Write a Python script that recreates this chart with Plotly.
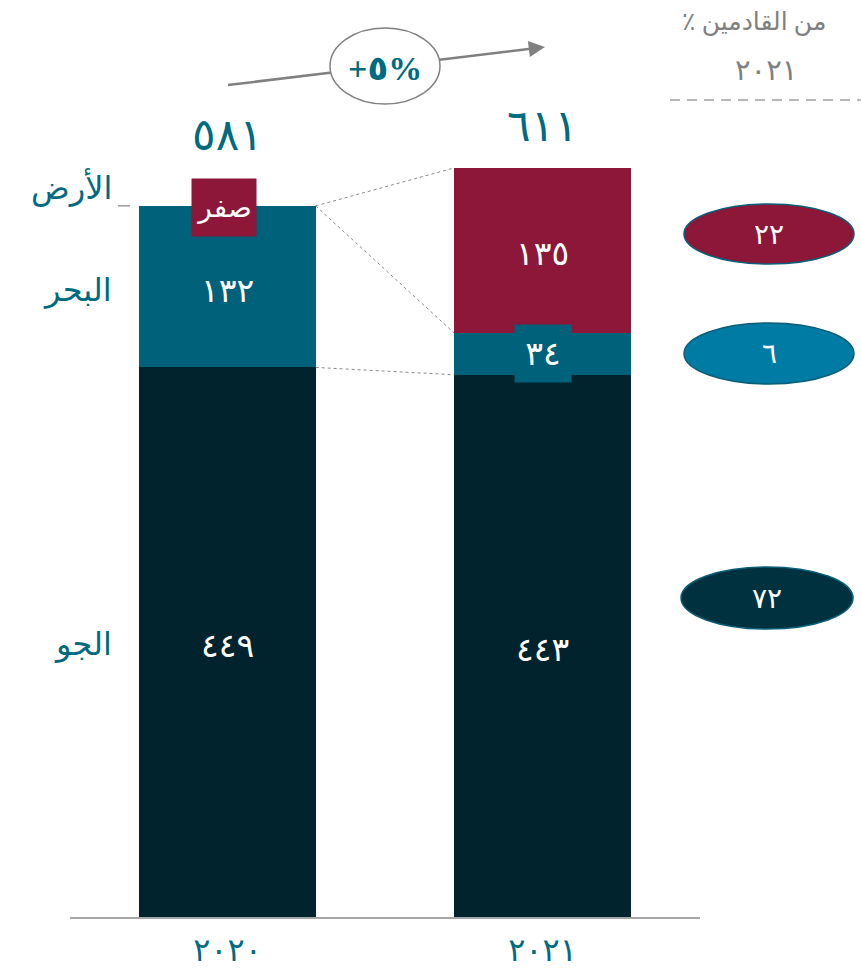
import plotly.graph_objects as go

years = ["٢٠٢٠", "٢٠٢١"]
air = [449, 443]
sea = [132, 34]
land = [0, 135]
air_labels = ["٤٤٩", "٤٤٣"]
sea_labels = ["١٣٢", "٣٤"]
land_labels = ["صفر", "١٣٥"]
totals = [581, 611]
total_labels = ["٥٨١", "٦١١"]
mode_names = ["الجو", "البحر", "الأرض"]
share_labels = ["٧٢", "٦", "٢٢"]
growth_label = "+٥%"
header_line1 = "٪ من القادمين"
header_line2 = "٢٠٢١"

C_AIR = "#01232E"
C_SEA = "#00617A"
C_LAND = "#8C1739"
C_TEAL = "#006A80"
C_GRAY = "#808080"
FONT = "Liberation Serif, DejaVu Sans, sans-serif"

W, H = 861, 974
ML, MR, MT, MB = 70, 161, 0, 57
PW = W - ML - MR
PH = H - MT - MB
YMAX = PH / 1.224
BW = 0.56


def px(x):
    return (x - ML) / PW


def py(y):
    return (H - MB - y) / PH


fig = go.Figure()
for vals, col in [(air, C_AIR), (sea, C_SEA), (land, C_LAND)]:
    fig.add_trace(go.Bar(x=years, y=vals, marker=dict(color=col, line=dict(width=0)),
                         width=BW, showlegend=False, hoverinfo="skip"))

ann = []
shapes = []
LBL = dict(size=33, color="white", family=FONT)
for i, yr in enumerate(years):
    ann.append(dict(x=yr, y=air[i] / 2, text=air_labels[i], showarrow=False, yshift=-4,
                    xanchor="center", yanchor="middle", font=LBL))
    if i == 0:
        ann.append(dict(x=yr, y=air[i] + sea[i] / 2, text=sea_labels[i], showarrow=False, yshift=-4,
                        xanchor="center", yanchor="middle", font=LBL))
        ann.append(dict(x=yr, y=air[i] + sea[i] + land[i], text=land_labels[i], showarrow=False,
                        xanchor="center", yanchor="middle",
                        font=dict(size=28, color="white", family=FONT), bgcolor=C_LAND,
                        width=62, height=55, yshift=-2, xshift=-4))
    else:
        ann.append(dict(x=yr, y=air[i] + sea[i] / 2, text=sea_labels[i], showarrow=False,
                        xanchor="center", yanchor="middle",
                        font=LBL, bgcolor=C_SEA, width=54, height=55))
        ann.append(dict(x=yr, y=air[i] + sea[i] + land[i] / 2, text=land_labels[i], showarrow=False,
                        yshift=-3, xanchor="center", yanchor="middle", font=LBL))
    ann.append(dict(x=yr, y=totals[i], text=total_labels[i], showarrow=False, yanchor="bottom",
                    xanchor="center", yshift=44 if i == 0 else 16,
                    font=dict(size=44, color=C_TEAL, family=FONT)))

# left category labels
CAT = dict(size=32, color=C_TEAL, family=FONT)
ann.append(dict(xref="paper", x=px(114), y=air[0] / 2, text=mode_names[0], xanchor="right",
                yanchor="middle", showarrow=False, yshift=-2, font=CAT))
ann.append(dict(xref="paper", x=px(114), y=air[0] + sea[0] / 2, text=mode_names[1], xanchor="right",
                yanchor="middle", showarrow=False, yshift=-4, font=CAT))
ann.append(dict(xref="paper", x=px(114), y=air[0] + sea[0] + land[0], text=mode_names[2], xanchor="right",
                yanchor="middle", showarrow=False, yshift=18, font=CAT))
shapes.append(dict(type="line", xref="paper", yref="y", x0=px(118), x1=px(130),
                   y0=air[0] + sea[0], y1=air[0] + sea[0], line=dict(color=C_GRAY, width=1.2)))

# connector lines
h = BW / 2
conn = [((air[0] + sea[0] + land[0]), (air[1] + sea[1] + land[1])),
        ((air[0] + sea[0] + land[0]), (air[1] + sea[1])),
        (air[0], air[1])]
for y0, y1 in conn:
    shapes.append(dict(type="line", xref="x", yref="y", x0=h, x1=1 - h, y0=y0, y1=y1,
                       line=dict(color="#8a8a8a", width=1, dash="dot")))

# share ellipses
ell = [(share_labels[2], C_LAND, 684, 854, 204, 264),
       (share_labels[1], "#007BA3", 684, 854, 323, 384),
       (share_labels[0], "#00313F", 681, 853, 567, 629)]
for txt, col, x0, x1, y0, y1 in ell:
    shapes.append(dict(type="circle", xref="paper", yref="paper", x0=px(x0), x1=px(x1),
                       y0=py(y1), y1=py(y0), fillcolor=col, line=dict(color="#0B5E78", width=1.5),
                       layer="above"))
    ann.append(dict(xref="paper", yref="paper", x=px((x0 + x1) / 2), y=py((y0 + y1) / 2), text=txt,
                    showarrow=False, xanchor="center", yanchor="middle",
                    font=dict(size=28, color="white", family=FONT)))

# header
ann.append(dict(xref="paper", yref="paper", x=px(754), y=py(22), text=header_line1, showarrow=False,
                xanchor="center", yanchor="middle", font=dict(size=25, color=C_GRAY, family=FONT)))
ann.append(dict(xref="paper", yref="paper", x=px(766), y=py(70), text=header_line2, showarrow=False,
                xanchor="center", yanchor="middle", font=dict(size=29, color=C_GRAY, family=FONT)))
shapes.append(dict(type="line", xref="paper", yref="paper", x0=px(670), x1=px(861), y0=py(100), y1=py(100),
                   line=dict(color="#a0a0a0", width=1.5, dash="10px,7px")))

# growth arrow
shapes.append(dict(type="line", xref="paper", yref="paper", x0=px(228), y0=py(85), x1=px(332), y1=py(72.5),
                   line=dict(color=C_GRAY, width=2.5)))
ann.append(dict(xref="paper", yref="paper", x=px(545), y=py(47), ax=438 - 545, ay=60 - 47,
                text="", showarrow=True, arrowhead=2, arrowsize=1.3,
                arrowwidth=2.5, arrowcolor=C_GRAY))
shapes.append(dict(type="circle", xref="paper", yref="paper", x0=px(330), x1=px(440), y0=py(104), y1=py(28),
                   fillcolor="white", line=dict(color=C_GRAY, width=1.5), layer="above"))
ann.append(dict(xref="paper", yref="paper", x=px(385), y=py(68), text="<b>" + growth_label + "</b>",
                showarrow=False, xanchor="center", yanchor="middle",
                font=dict(size=34, color=C_TEAL, family=FONT)))

fig.update_layout(
    width=W, height=H, barmode="stack", bargap=0,
    margin=dict(l=ML, r=MR, t=MT, b=MB, autoexpand=False),
    plot_bgcolor="white", paper_bgcolor="white",
    xaxis=dict(showline=True, linecolor="#a6a6a6", linewidth=2, showgrid=False, ticks="",
               tickfont=dict(size=32, color=C_TEAL, family=FONT), range=[-0.5, 1.5],
               ticklabelstandoff=4, automargin=False),
    yaxis=dict(visible=False, range=[0, YMAX], showgrid=False, zeroline=False, automargin=False),
    annotations=ann, shapes=shapes,
)
fig.write_html("out.html", config={"displayModeBar": False},
               post_script="document.body.style.margin='0';document.body.style.overflow='hidden';")
